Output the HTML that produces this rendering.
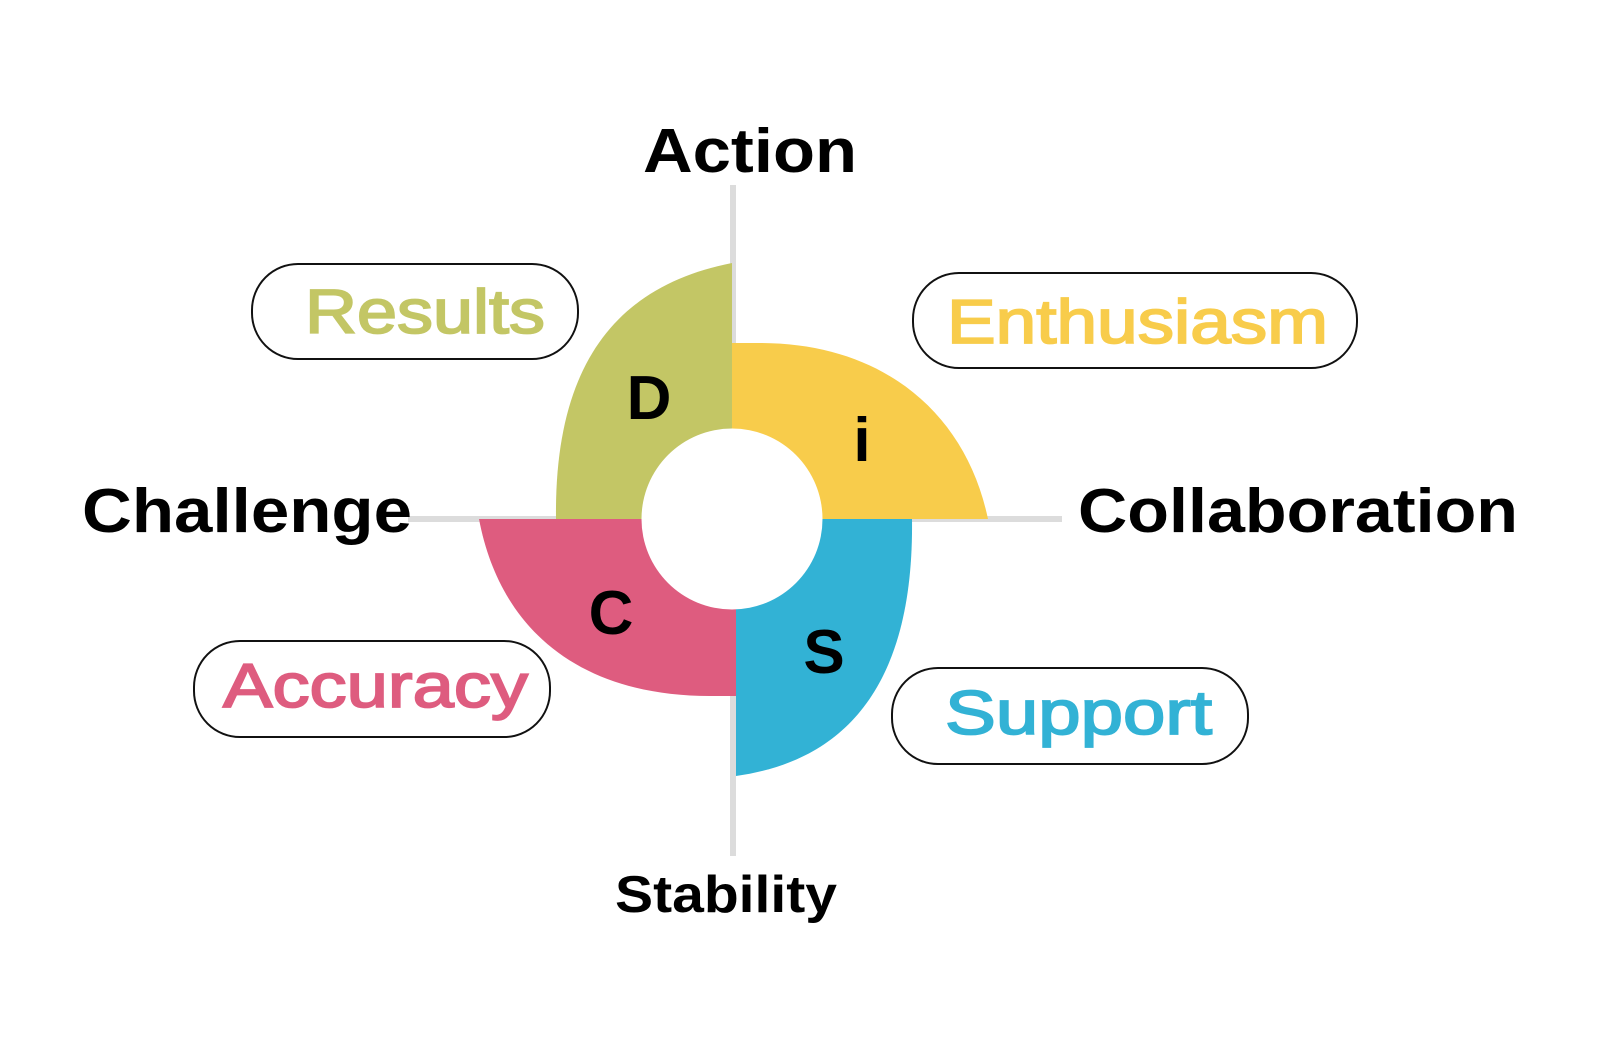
<!DOCTYPE html>
<html><head><meta charset="utf-8"><style>
html,body{margin:0;padding:0;background:#fff;}
svg{display:block;}
text{font-family:"Liberation Sans",sans-serif;}
</style></head><body>
<svg width="1600" height="1045" viewBox="0 0 1600 1045" xmlns="http://www.w3.org/2000/svg">
<rect width="1600" height="1045" fill="#fff"/>
<line x1="733" y1="185" x2="733" y2="856" stroke="#dcdcdc" stroke-width="6"/>
<line x1="408" y1="519" x2="1062" y2="519" stroke="#dcdcdc" stroke-width="6"/>
<path d="M732,263 L732,519 L556,519 C554,360 620,285 732,263 Z" fill="#c3c665"/>
<path d="M732,343 L760,343 C880,343 965,410 988,519 L732,519 Z" fill="#f8cc4b"/>
<path d="M912,519 C914,680 850,760 736,776 L736,519 Z" fill="#32b2d5"/>
<path d="M479,519 L736,519 L736,696 L710,696 C580,696 500,630 479,519 Z" fill="#de5c7f"/>
<circle cx="732" cy="519" r="90.5" fill="#fff"/>
<g font-weight="bold" font-size="62" fill="#000" text-anchor="middle">
<text x="649" y="419">D</text>
<text x="862" y="461">i</text>
<text x="611" y="634">C</text>
<text x="824" y="673">S</text>
</g>
<g font-weight="bold" fill="#000">
<text x="643" y="172" font-size="62" textLength="214" lengthAdjust="spacingAndGlyphs">Action</text>
<text x="82" y="532" font-size="62" textLength="330" lengthAdjust="spacingAndGlyphs">Challenge</text>
<text x="1078" y="532" font-size="62" textLength="440" lengthAdjust="spacingAndGlyphs">Collaboration</text>
<text x="615" y="912" font-size="52" textLength="222" lengthAdjust="spacingAndGlyphs">Stability</text>
</g>
<g fill="#fff" stroke="#111" stroke-width="2">
<rect x="252" y="264" width="326" height="95" rx="46"/>
<rect x="913" y="273" width="444" height="95" rx="46"/>
<rect x="194" y="641" width="356" height="96" rx="46"/>
<rect x="892" y="668" width="356" height="96" rx="46"/>
</g>
<g font-size="62" stroke-width="1.8">
<text x="305" y="333" fill="#c3c665" stroke="#c3c665" textLength="240" lengthAdjust="spacingAndGlyphs">Results</text>
<text x="947" y="343" fill="#f8cc4b" stroke="#f8cc4b" textLength="381" lengthAdjust="spacingAndGlyphs">Enthusiasm</text>
<text x="223" y="707" fill="#de5c7f" stroke="#de5c7f" textLength="305" lengthAdjust="spacingAndGlyphs">Accuracy</text>
<text x="945" y="734" fill="#32b2d5" stroke="#32b2d5" textLength="267" lengthAdjust="spacingAndGlyphs">Support</text>
</g>
</svg>
</body></html>
